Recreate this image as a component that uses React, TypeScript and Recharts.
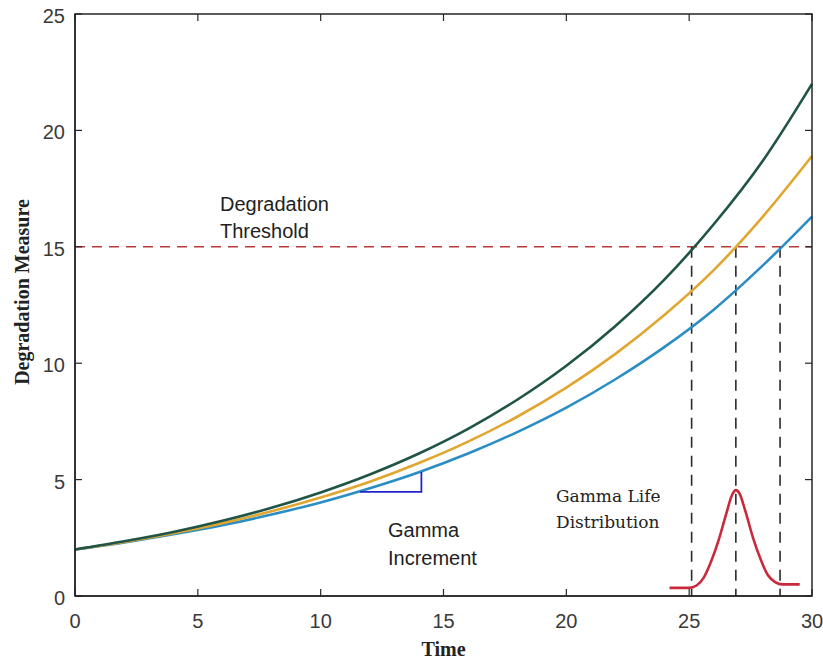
import React from 'react';
import { LineChart, Line, XAxis, YAxis, ReferenceLine, ReferenceDot, Label } from 'recharts';

// degradation paths, every 2 time units
const time = [0, 2, 4, 6, 8, 10, 12, 14, 16, 18, 20, 22, 24, 26, 28, 30];
const fastPath = [2, 2.35, 2.75, 3.23, 3.79, 4.45, 5.22, 6.12, 7.18, 8.43, 9.89, 11.6, 13.6, 15.97, 18.7, 22.0];
const midPath = [2, 2.32, 2.7, 3.13, 3.64, 4.23, 4.91, 5.71, 6.63, 7.7, 8.95, 10.4, 12.08, 14.0, 16.3, 18.9];
const slowPath = [2, 2.3, 2.65, 3.04, 3.5, 4.02, 4.63, 5.32, 6.12, 7.04, 8.09, 9.31, 10.7, 12.3, 14.2, 16.3];

const threshold = 15;
const crossTimes = [25.1, 26.9, 28.7];

// gamma increment triangle
const incTime = [11.6, 14.1, 14.1];
const incValue = [4.47, 4.47, 5.33];

// gamma life distribution sketch
const distTime = [24.2, 25.0, 25.3, 25.6, 25.9, 26.2, 26.5, 26.75, 26.9, 27.05, 27.3, 27.6, 27.9, 28.2, 28.5, 28.8, 29.5];
const distValue = [0.35, 0.35, 0.45, 0.8, 1.5, 2.4, 3.5, 4.35, 4.55, 4.4, 3.6, 2.5, 1.6, 0.9, 0.6, 0.5, 0.5];

const xTicks = [0, 5, 10, 15, 20, 25, 30];
const yTicks = [0, 5, 10, 15, 20, 25];
const xMax = 30;
const yMax = 25;

const data = time.map((t, i) => ({ t, fast: fastPath[i], mid: midPath[i], slow: slowPath[i] }));
const incData = incTime.map((t, i) => ({ t, v: incValue[i] }));
const distData = distTime.map((t, i) => ({ t, v: distValue[i] }));

const W = 823;
const H = 664;
// plot box, matches the chart margins + axis sizes below
const PLOT = { left: 75, top: 14, right: 812, bottom: 596 };

const AXIS = '#262626';
const TICK_FONT = { fontFamily: '"Liberation Sans", Arial, sans-serif', fontSize: 20, fill: '#3a3a3a' };

const BottomTick = (props: any) => (
    <text x={props.x} y={props.y + 32} textAnchor="middle" {...TICK_FONT}>{props.payload.value}</text>
);
const LeftTick = (props: any) => (
    <text x={props.x - 10} y={props.y + 9} textAnchor="end" {...TICK_FONT}>{props.payload.value}</text>
);

// matlab style frame: full box with inward ticks on all four sides
const Frame = () => {
    const px = (t: number) => PLOT.left + (t / xMax) * (PLOT.right - PLOT.left);
    const py = (v: number) => PLOT.bottom - (v / yMax) * (PLOT.bottom - PLOT.top);
    return (
        <svg width={W} height={H} style={{ position: 'absolute', left: 0, top: 0, pointerEvents: 'none' }}>
            <rect x={PLOT.left} y={PLOT.top} width={PLOT.right - PLOT.left} height={PLOT.bottom - PLOT.top}
                fill="none" stroke={AXIS} strokeWidth={1.5} />
            {xTicks.map((t) => (
                <g key={'x' + t}>
                    <line x1={px(t)} x2={px(t)} y1={PLOT.bottom} y2={PLOT.bottom - 7} stroke={AXIS} strokeWidth={1.2} />
                    <line x1={px(t)} x2={px(t)} y1={PLOT.top} y2={PLOT.top + 7} stroke={AXIS} strokeWidth={1.2} />
                </g>
            ))}
            {yTicks.map((v) => (
                <g key={'y' + v}>
                    <line x1={PLOT.left} x2={PLOT.left + 7} y1={py(v)} y2={py(v)} stroke={AXIS} strokeWidth={1.2} />
                    <line x1={PLOT.right} x2={PLOT.right - 7} y1={py(v)} y2={py(v)} stroke={AXIS} strokeWidth={1.2} />
                </g>
            ))}
        </svg>
    );
};

const note = (lines: string[], family: string, size: number, lh: number) => (p: any) => (
    <text x={p.cx} y={p.cy} fontFamily={family} fontSize={size} fill="#222">
        {lines.map((l, i) => (
            <tspan key={i} x={p.cx} dy={i ? lh : 0}>{l}</tspan>
        ))}
    </text>
);

const SANS = '"Liberation Sans", Arial, sans-serif';
const SERIF = '"DejaVu Serif", serif';

export default function App() {
    return (
        <div style={{ position: 'absolute', left: 0, top: 0, width: W, height: H, background: '#fff' }}>
            <LineChart width={W} height={H} data={data}
                margin={{ top: PLOT.top, right: W - PLOT.right, bottom: 0, left: 0 }}>
                <XAxis dataKey="t" type="number" domain={[0, xMax]} ticks={xTicks} height={H - PLOT.bottom}
                    stroke={AXIS} strokeWidth={1.5} tickLine={false} tickSize={0} tickMargin={0} tick={<BottomTick />}>
                    <Label content={({ viewBox }: any) => (
                        <text x={viewBox.x + viewBox.width / 2} y={viewBox.y + 60} textAnchor="middle"
                            fontFamily='"Liberation Serif", "Times New Roman", serif' fontWeight="bold" fontSize={20} fill="#222">Time</text>
                    )} />
                </XAxis>
                <YAxis type="number" domain={[0, yMax]} ticks={yTicks} width={PLOT.left}
                    stroke={AXIS} strokeWidth={1.5} tickLine={false} tickSize={0} tickMargin={0} tick={<LeftTick />}>
                    <Label content={() => (
                        <text x={22} y={292} transform="rotate(-90 22 292)" dy={7} textAnchor="middle"
                            fontFamily='"Liberation Serif", "Times New Roman", serif' fontWeight="bold" fontSize={20} fill="#222">Degradation Measure</text>
                    )} />
                </YAxis>

                <ReferenceLine y={threshold} stroke="#b83a3a" strokeWidth={1.5} strokeDasharray="10 7" />
                {crossTimes.map((c) => (
                    <ReferenceLine key={c} segment={[{ x: c, y: threshold }, { x: c, y: 0 }]}
                        stroke="#2a2a2a" strokeWidth={1.6} strokeDasharray="11 8" />
                ))}

                <Line dataKey="slow" type="monotone" stroke="#2a8dc4" strokeWidth={2.6} dot={false} isAnimationActive={false} />
                <Line dataKey="mid" type="monotone" stroke="#e0a630" strokeWidth={2.6} dot={false} isAnimationActive={false} />
                <Line dataKey="fast" type="monotone" stroke="#1f5446" strokeWidth={2.6} dot={false} isAnimationActive={false} />

                <Line data={incData} dataKey="v" type="linear" stroke="#2424cc" strokeWidth={1.8} dot={false} isAnimationActive={false} />
                <Line data={distData} dataKey="v" type="monotone" stroke="#c82a3c" strokeWidth={2.6} dot={false} isAnimationActive={false} />

                <ReferenceDot x={5.9} y={16.54} r={0} shape={note(['Degradation', 'Threshold'], SANS, 20, 27)} />
                <ReferenceDot x={12.74} y={2.53} r={0} shape={note(['Gamma', 'Increment'], SANS, 20, 28)} />
                <ReferenceDot x={19.58} y={4.04} r={0} shape={note(['Gamma Life', 'Distribution'], SERIF, 17, 26)} />
            </LineChart>
            <Frame />
        </div>
    );
}
